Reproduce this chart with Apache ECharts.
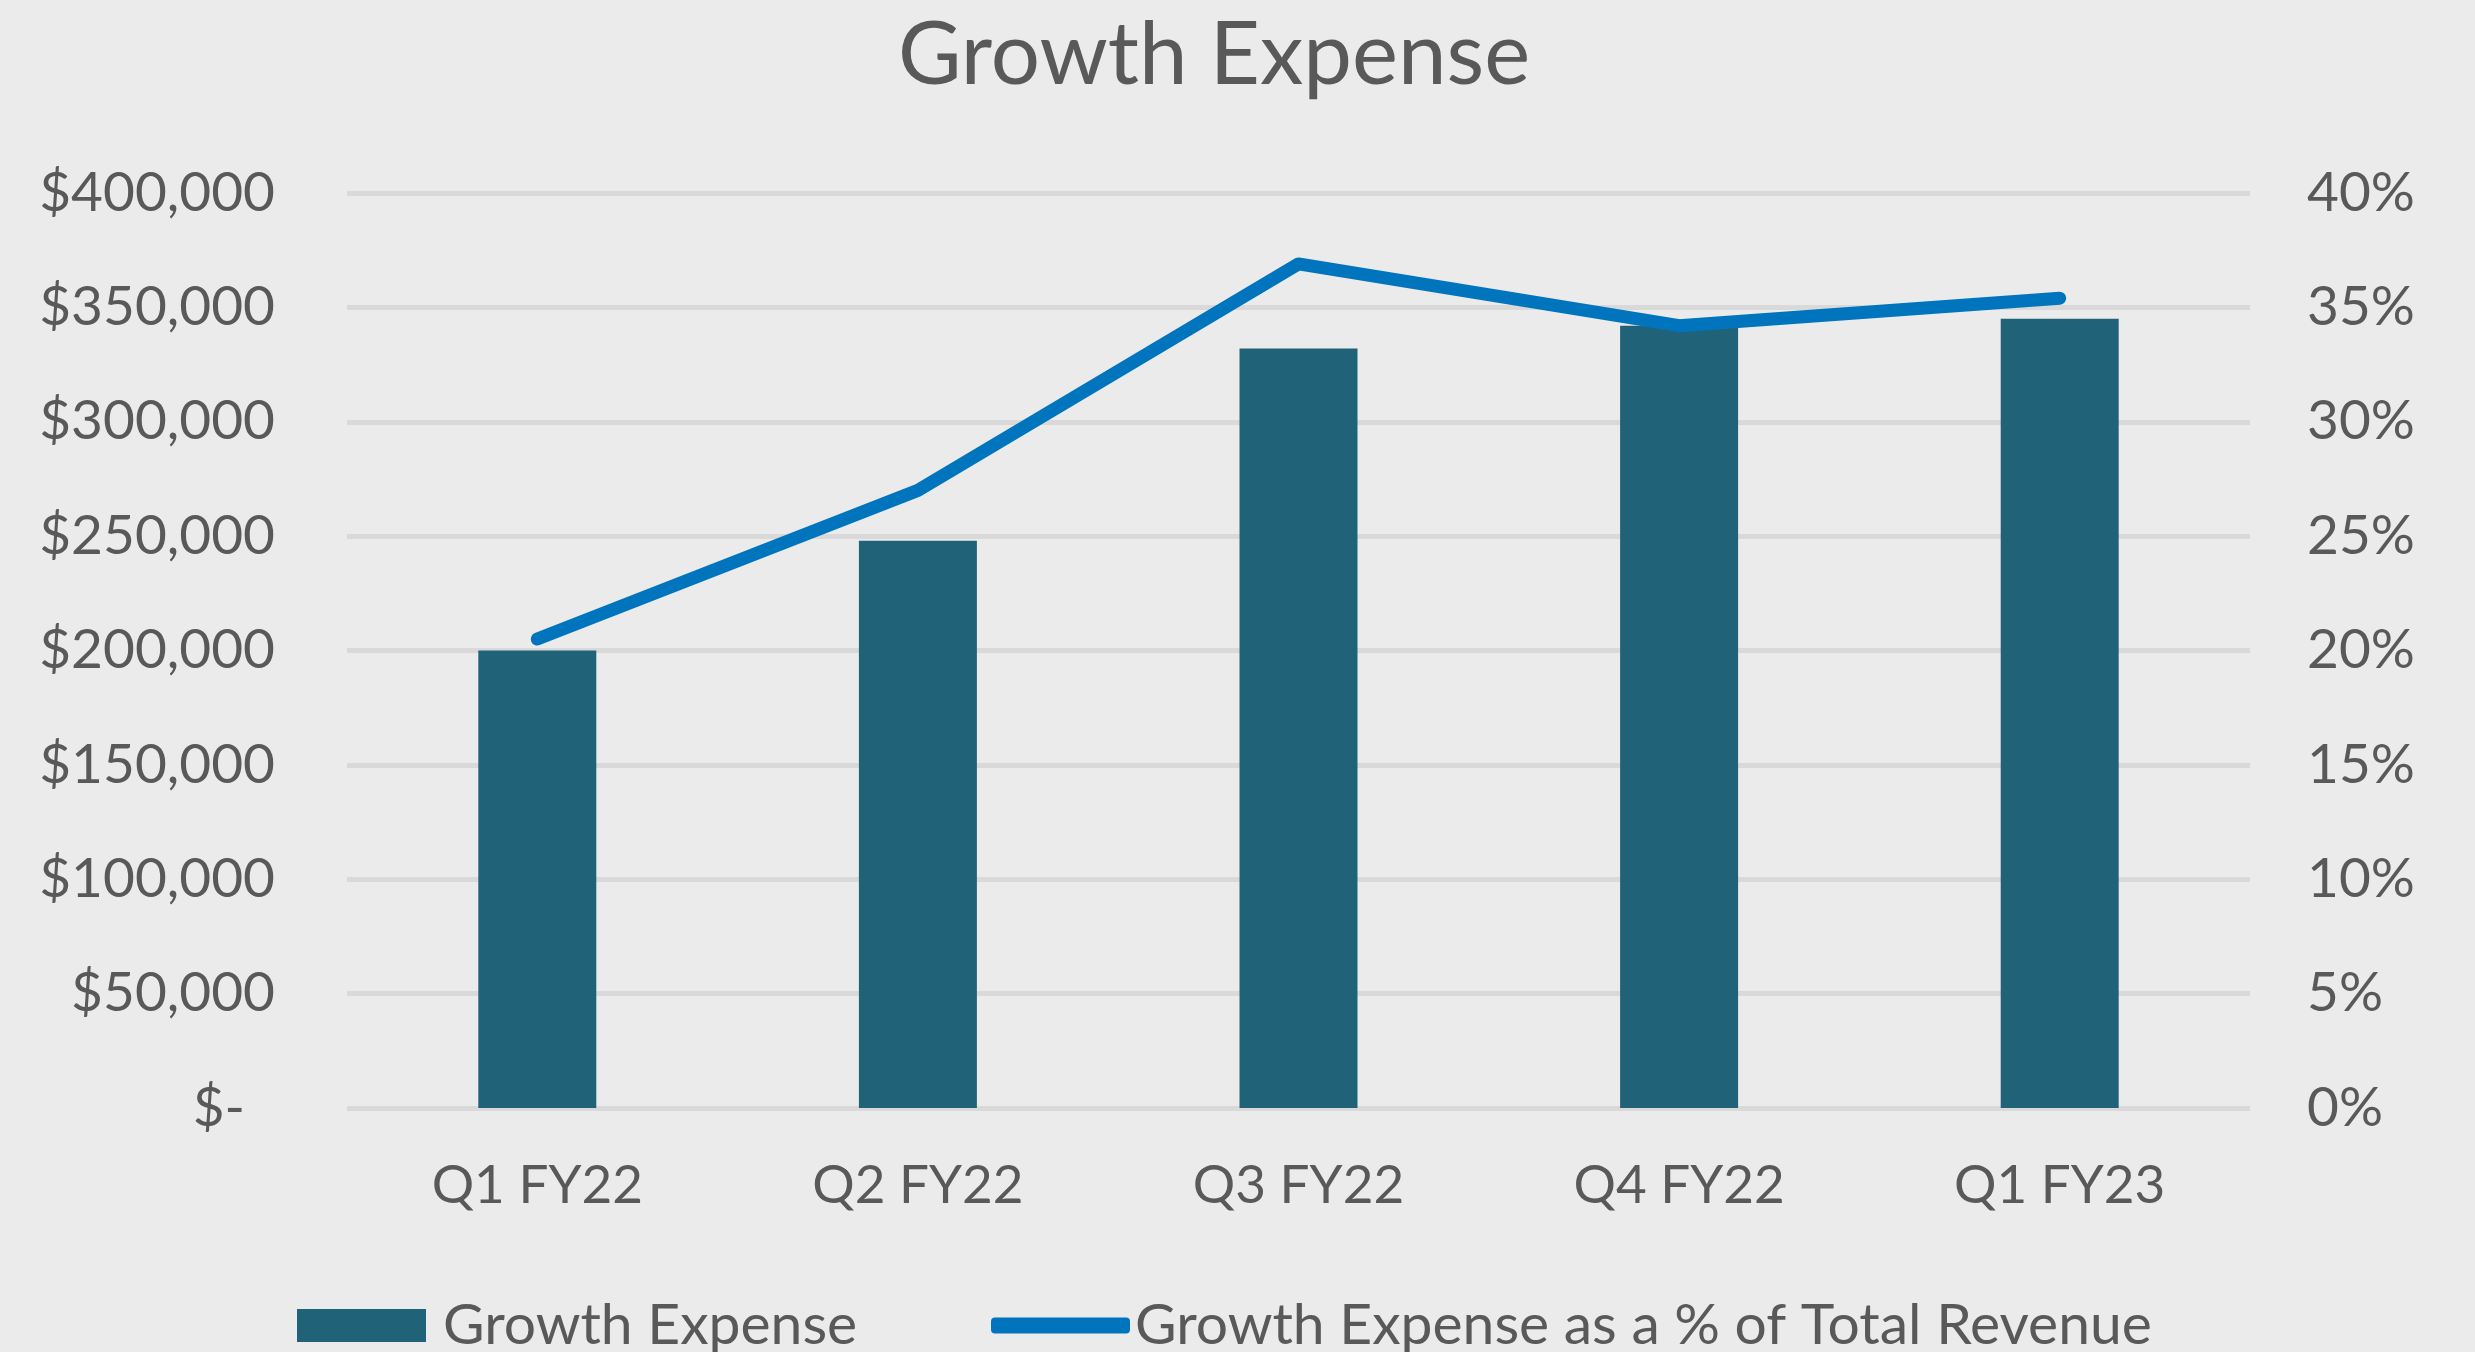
<!DOCTYPE html>
<html>
<head>
<meta charset="utf-8">
<title>Growth Expense</title>
<script src="https://cdn.jsdelivr.net/npm/echarts@6/dist/echarts.min.js"></script>
<style>
    html, body { margin: 0; padding: 0; background: #EBEBEB; }
    #chart { width: 2475px; height: 1352px; }
</style>
</head>
<body>
<div id="chart"></div>
<script>
//数据
var quarters = ['Q1 FY22', 'Q2 FY22', 'Q3 FY22', 'Q4 FY22', 'Q1 FY23'];
var growthExpense = [200000, 248000, 332000, 342000, 345000];
var expensePct = [20.5, 27.0, 36.9, 34.2, 35.4];

var barName = 'Growth Expense';
var lineName = 'Growth Expense as a % of Total Revenue';

var fontName = 'Lato, "Open Sans", sans-serif';
var textColor = '#595959';
var gridColor = '#D9D9D9';

//金额格式
var moneyFmt = function (v) {
    if (v === 0) {
        return '{z|$-}';
    }
    return '$' + v.toString().replace(/\B(?=(\d{3})+(?!\d))/g, ',');
};

var chart = echarts.init(document.getElementById('chart'));
var option = {
    backgroundColor: '#EBEBEB',
    animation: false,
    title: {
        text: 'Growth Expense',
        left: 898,
        top: 12,
        padding: 0,
        textStyle: {
            fontFamily: fontName,
            fontSize: 87,
            fontWeight: 'normal',
            color: textColor
        }
    },
    legend: [{
        data: [barName],
        left: 297,
        top: 1297,
        padding: 0,
        icon: 'rect',
        itemWidth: 129,
        itemHeight: 33,
        selectedMode: false,
        textStyle: {
            fontFamily: fontName,
            fontSize: 57,
            color: textColor,
            padding: [0, 0, 0, 12]
        }
    }, {
        data: [lineName],
        left: 991,
        top: 1297,
        padding: 0,
        icon: 'roundRect',
        itemWidth: 139,
        itemHeight: 16,
        selectedMode: false,
        textStyle: {
            fontFamily: fontName,
            fontSize: 57,
            color: textColor
        }
    }],
    grid: {
        left: 347,
        right: 225,
        top: 193,
        bottom: 244
    },
    xAxis: {
        type: 'category',
        data: quarters,
        axisLine: { show: false },
        axisTick: { show: false },
        axisLabel: {
            margin: 51,
            fontFamily: fontName,
            fontSize: 53,
            color: textColor
        }
    },
    yAxis: [{
        type: 'value',
        min: 0,
        max: 400000,
        interval: 50000,
        axisLine: { show: false },
        axisTick: { show: false },
        splitLine: { lineStyle: { color: gridColor, width: 5 } },
        axisLabel: {
            margin: 72,
            fontFamily: fontName,
            fontSize: 55,
            color: textColor,
            formatter: moneyFmt,
            rich: {
                z: { fontFamily: fontName, fontSize: 55, color: textColor, padding: [0, 30, 0, 0] }
            }
        }
    }, {
        type: 'value',
        min: 0,
        max: 40,
        interval: 5,
        axisLine: { show: false },
        axisTick: { show: false },
        splitLine: { show: false },
        axisLabel: {
            margin: 57,
            fontFamily: fontName,
            fontSize: 55,
            color: textColor,
            formatter: '{value}%'
        }
    }],
    series: [{
        name: barName,
        type: 'bar',
        data: growthExpense,
        barWidth: '31%',
        itemStyle: { color: '#206379' }
    }, {
        name: lineName,
        type: 'line',
        yAxisIndex: 1,
        data: expensePct,
        symbol: 'none',
        itemStyle: { color: '#0075BE' },
        lineStyle: { color: '#0075BE', width: 13, cap: 'round', join: 'round' }
    }]
};

chart.setOption(option);
</script>
</body>
</html>
